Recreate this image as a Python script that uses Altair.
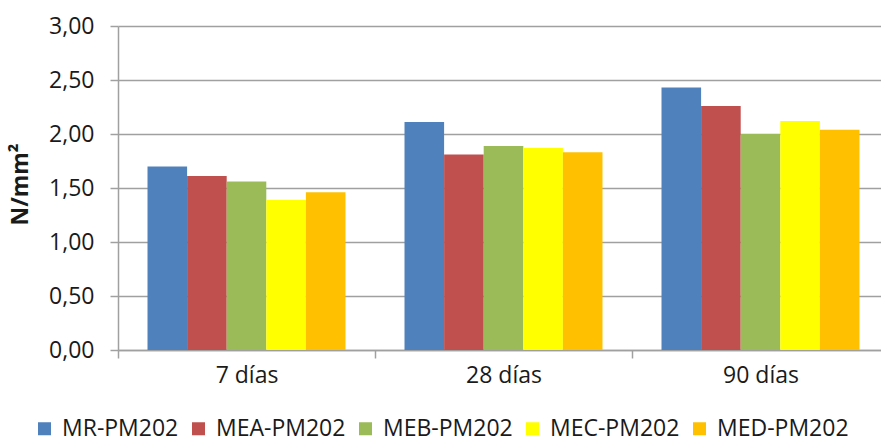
import altair as alt
import pandas as pd

# Curing ages (x categories) and mortar series
periodos = ["7 días", "28 días", "90 días"]
series = ["MR-PM202", "MEA-PM202", "MEB-PM202", "MEC-PM202", "MED-PM202"]

# Strength values in N/mm² for each series, ordered as in `periodos`
mr_pm202 = [1.70, 2.11, 2.43]
mea_pm202 = [1.61, 1.81, 2.26]
meb_pm202 = [1.56, 1.89, 2.00]
mec_pm202 = [1.39, 1.87, 2.12]
med_pm202 = [1.46, 1.83, 2.04]

colores = ["#4F81BD", "#C0504D", "#9BBB59", "#FFFF00", "#FFC000"]

valores = [mr_pm202, mea_pm202, meb_pm202, mec_pm202, med_pm202]
rows = []
for serie, vals in zip(series, valores):
    for periodo, v in zip(periodos, vals):
        rows.append({"periodo": periodo, "serie": serie, "valor": v})
df = pd.DataFrame(rows)

FONT = "Open Sans"
GRID = "#a0a0a0"
TEXT = "#1a1a1a"

chart = (
    alt.Chart(df)
    .mark_bar()
    .encode(
        x=alt.X(
            "periodo:N",
            sort=periodos,
            scale=alt.Scale(range=[0, 771], paddingInner=0, paddingOuter=0),
            axis=alt.Axis(
                title=None,
                labelAngle=0,
                labelFont=FONT,
                labelFontSize=23,
                labelColor=TEXT,
                labelPadding=6,
                tickBand="extent",
                ticks=True,
                tickSize=8,
                tickColor=GRID,
                tickWidth=1.5,
                domain=True,
                domainColor=GRID,
                domainWidth=1.5,
                grid=False,
            ),
        ),
        xOffset=alt.XOffset(
            "serie:N",
            sort=series,
            scale=alt.Scale(paddingInner=0, paddingOuter=0.745),
        ),
        y=alt.Y(
            "valor:Q",
            scale=alt.Scale(domain=[0, 3], nice=False),
            axis=alt.Axis(
                title="N/mm²",
                titleFont=FONT,
                titleFontSize=23,
                titleFontWeight="bold",
                titleColor=TEXT,
                titleX=-91,
                titleY=158,
                titleAngle=-90,
                titleAlign="center",
                titleBaseline="alphabetic",
                values=[0, 0.5, 1.0, 1.5, 2.0, 2.5, 3.0],
                labelExpr="replace(format(datum.value, '.2f'), '.', ',')",
                labelFont=FONT,
                labelFontSize=23,
                labelColor=TEXT,
                labelPadding=16,
                ticks=True,
                tickSize=8,
                tickColor=GRID,
                tickWidth=1.5,
                domain=True,
                domainColor=GRID,
                domainWidth=1.5,
                grid=True,
                gridColor=GRID,
                gridWidth=1.5,
            ),
        ),
        color=alt.Color(
            "serie:N",
            sort=series,
            scale=alt.Scale(domain=series, range=colores),
            legend=alt.Legend(
                title=None,
                orient="none",
                direction="horizontal",
                columns=5,
                legendX=-85,
                legendY=391,
                symbolType="square",
                symbolSize=169,
                symbolStrokeWidth=0,
                labelFont=FONT,
                labelFontSize=23,
                labelColor=TEXT,
                labelOffset=6,
                columnPadding=8,
            ),
        ),
    )
    .properties(
        width=763,
        height=324,
        autosize=alt.AutoSizeParams(type="none"),
        padding={"left": 118, "top": 26, "right": 0, "bottom": 93},
        background="white",
    )
    .configure_view(stroke=None)
)

chart.save("out.html", embed_options={"renderer": "svg", "actions": False})
